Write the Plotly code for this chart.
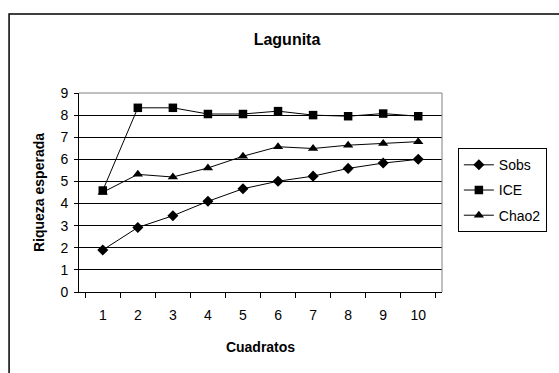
import plotly.graph_objects as go

# Muestreo de la Lagunita: riqueza esperada por número de cuadratos
cuadratos = ["1", "2", "3", "4", "5", "6", "7", "8", "9", "10"]
sobs = [1.9, 2.92, 3.45, 4.1, 4.67, 5.01, 5.24, 5.59, 5.83, 6.0]
ice = [4.59, 8.33, 8.33, 8.05, 8.05, 8.18, 8.0, 7.95, 8.07, 7.95]
chao2 = [4.51, 5.32, 5.2, 5.61, 6.14, 6.57, 6.49, 6.64, 6.72, 6.8]

FONT = "Liberation Sans, Arial, sans-serif"

series = [
    ("Sobs", sobs, "diamond", 8.5),
    ("ICE", ice, "square", 8.5),
    ("Chao2", chao2, "triangle-up", 9),
]

fig = go.Figure()
for i, (name, vals, sym, size) in enumerate(series):
    fig.add_trace(go.Scatter(
        x=cuadratos, y=vals, name=name, mode="lines+markers",
        line=dict(color="black", width=1),
        marker=dict(symbol=sym, size=size, color="black"),
        legendgroup=f"g{i}",
    ))

fig.update_layout(
    width=559, height=373,
    margin=dict(l=79, r=114, t=93, b=81),
    paper_bgcolor="white", plot_bgcolor="white",
    font=dict(family=FONT, size=14, color="black"),
    title=dict(text="<b>Lagunita</b>", x=287 / 559, xanchor="center",
               y=1 - 39 / 373, yanchor="middle",
               font=dict(size=16, family=FONT, color="black")),
    showlegend=True,
    legend=dict(x=(461 - 79) / 366, xanchor="left",
                y=(292 - 148) / 199.3, yanchor="top",
                bordercolor="black", borderwidth=1, bgcolor="white",
                traceorder="grouped", tracegroupgap=4,
                font=dict(size=14, family=FONT, color="black")),
    xaxis=dict(type="category", showline=True, linecolor="black", linewidth=1,
               ticks="outside", tickson="boundaries", ticklen=5,
               tickcolor="black", showgrid=False, zeroline=False,
               tickfont=dict(size=14), ticklabelstandoff=10,
               title=dict(text="<b>Cuadratos</b>", font=dict(size=14),
                          standoff=20)),
    yaxis=dict(range=[0, 9], tickvals=list(range(10)), showline=True,
               linecolor="black", linewidth=1, ticks="outside", ticklen=4,
               tickcolor="black", showgrid=True, gridcolor="black",
               gridwidth=1, zeroline=False, tickfont=dict(size=14),
               ticklabelstandoff=3,
               title=dict(text="<b>Riqueza esperada</b>",
                          font=dict(size=14), standoff=12)),
    shapes=[
        # borde gris superior y derecho del área de trazado
        dict(type="line", xref="paper", yref="paper", x0=0, x1=1, y0=1, y1=1,
             line=dict(color="#808080", width=1), layer="above"),
        dict(type="line", xref="paper", yref="paper", x0=1, x1=1, y0=0, y1=1,
             line=dict(color="#808080", width=1), layer="above"),
        # marco exterior del gráfico
        dict(type="rect", xref="paper", yref="paper",
             x0=(8.5 - 79) / 366, x1=1.6,
             y0=-0.6, y1=(292 - 13.5) / 199.3,
             line=dict(color="black", width=1.5), layer="below"),
    ],
)

fig.write_html("out.html")
